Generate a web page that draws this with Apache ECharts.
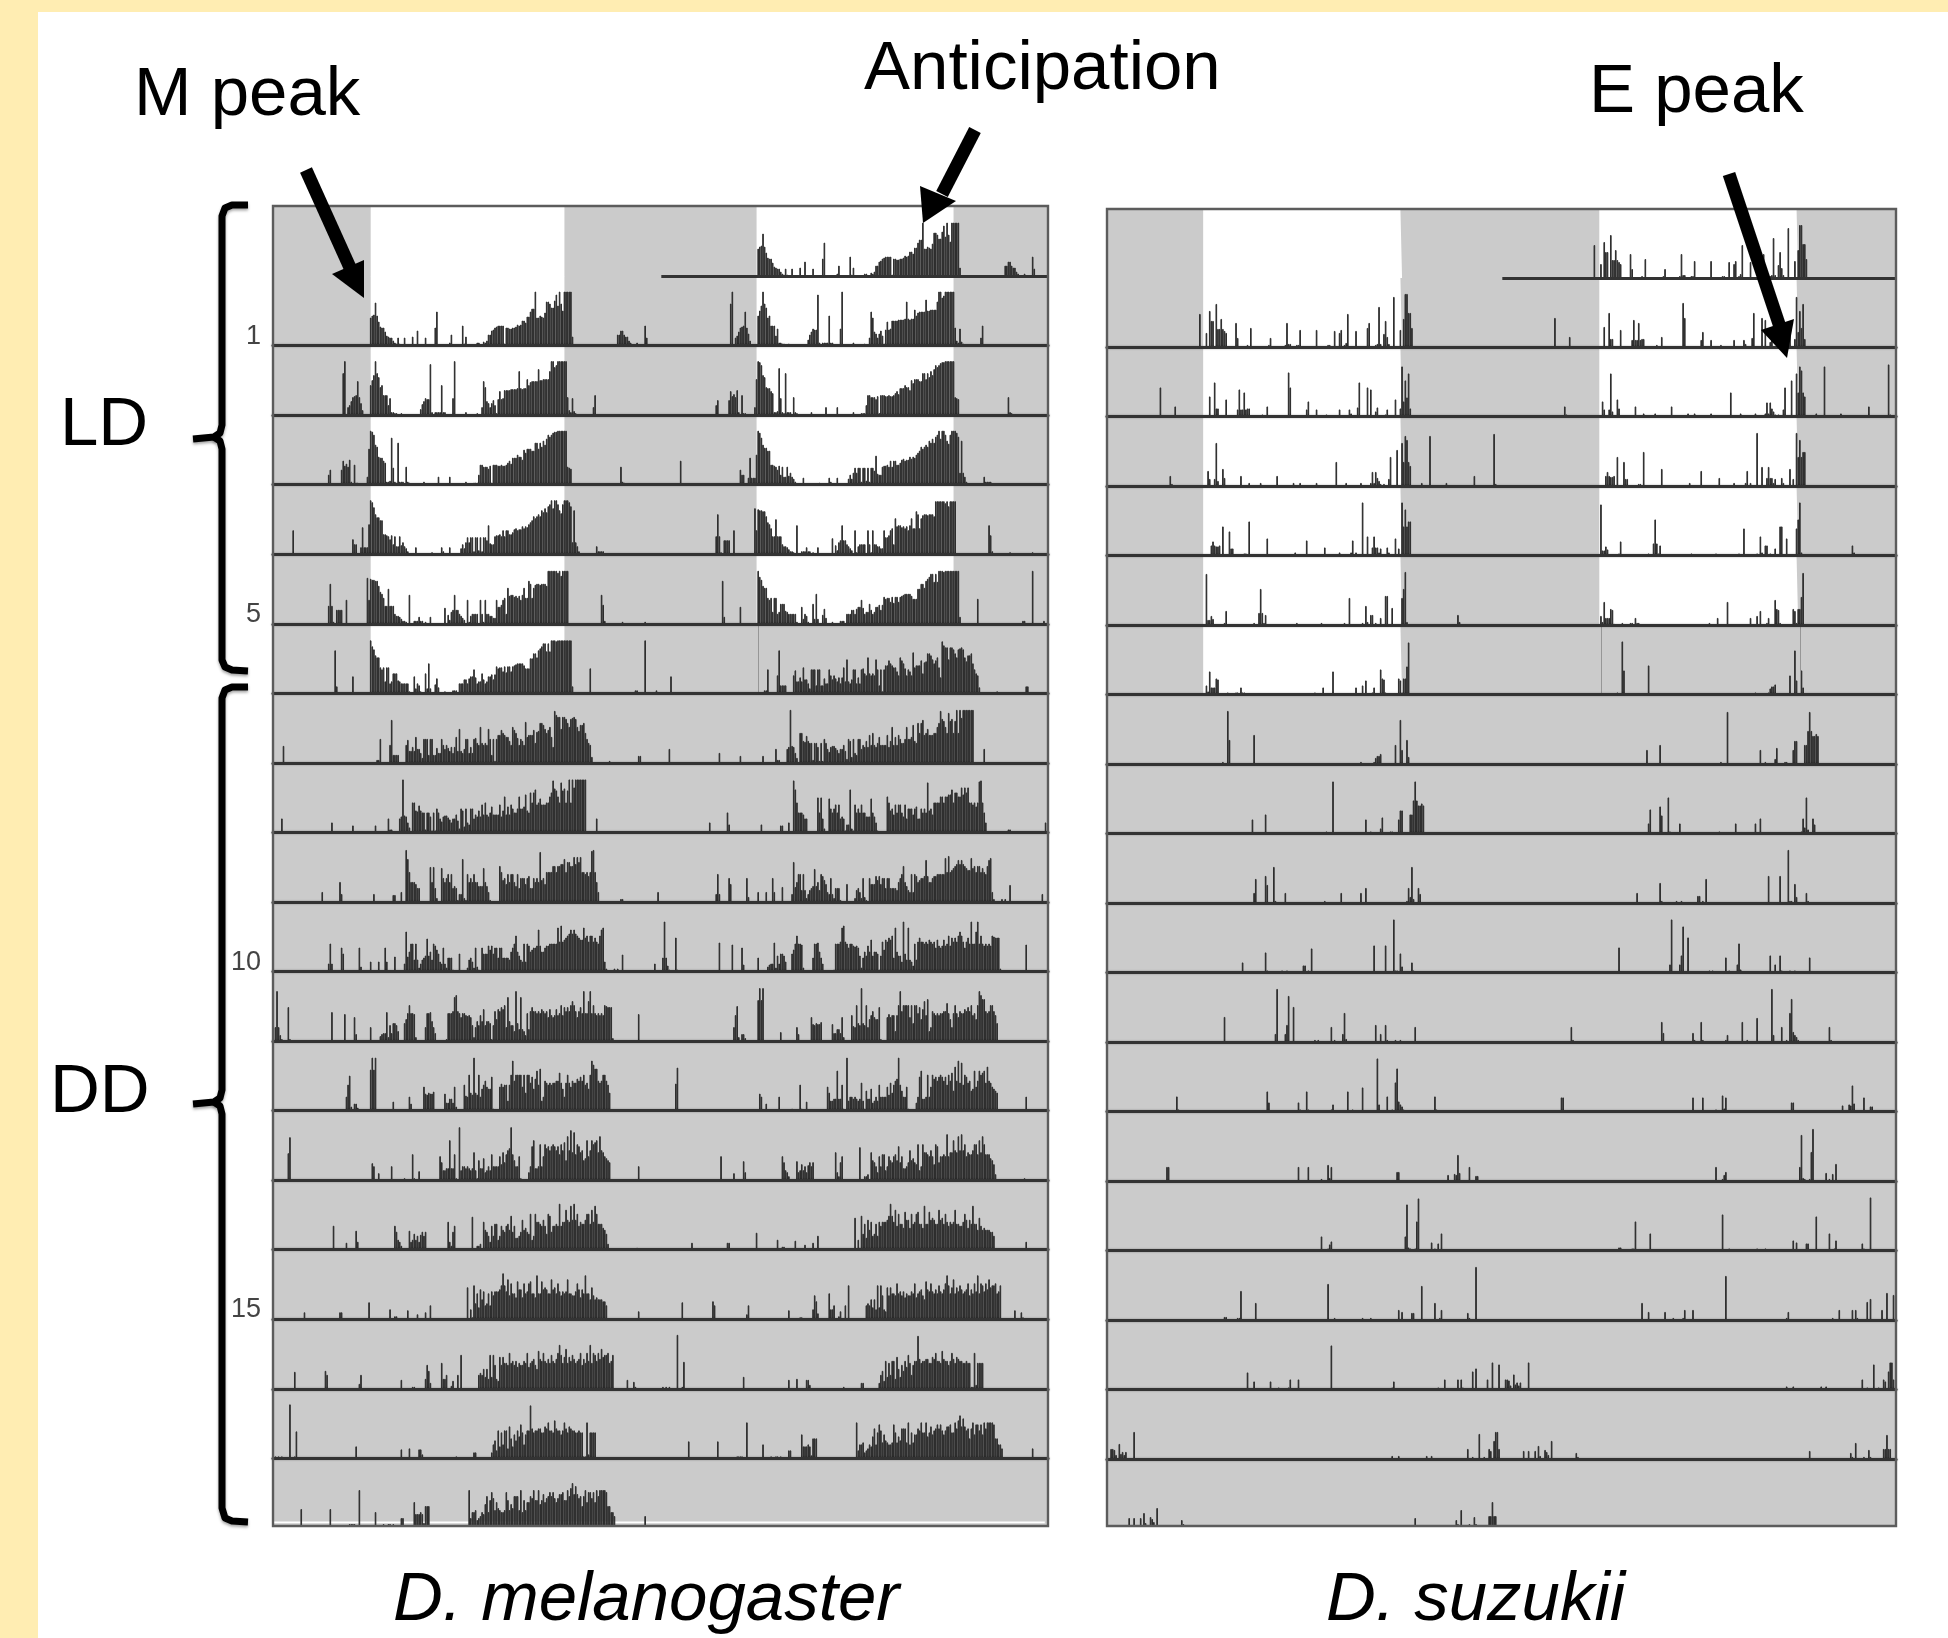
<!DOCTYPE html>
<html><head><meta charset="utf-8"><style>html,body{margin:0;padding:0;background:#fff}#c{width:1948px;height:1638px}</style>
<script src="https://cdn.jsdelivr.net/npm/echarts@6/dist/echarts.min.js"></script></head><body><div id="c"></div>
<script>
// Each day: runs of [first 6-min bin, activity, activity, ...].
const mel0=[[60,28,30,31,43,30,24,19,18,18,14,10,9,8,8,5,3,2,8,2],[81,8],[86,9],[89,15],[94,8],[100,18,34],[109,3,11],[117,20,2,9],[126,3,3],[130,4,3,5,11,11,15,16,18,19,20,20,20,20,2,18,18,17,17,18,18,19,21,20,21,25,25,23,29,29,34,37,37,54,28,28,30,29,28,33,44,44,42,38,38,45,51,40,54,42,35,54,54,54,54,54,9],[213,11,11,15,15,11,9,9,5,3],[225,3],[230,20,8]];
const mel1=[[43,42,54],[46,8,10,14,18,19,20,34,18,12,5],[60,30,35,40,54,42,38,28,30,20,20,20,10,17,3,3,2,2],[79,2],[91,6,11,14,17,16,16,51,3],[100,3,3,3,3,30,3,3],[111,17,54],[119,3],[126,2],[129,8,34,28,14,12,8,12,15,10,2,16,24,16,17,25,25,25,25,26,26,26,26,27,44,27,26,27,27,36,30,33,34,34,34,34,46,35,35,36,36,36,36,44,54,54,48,50,54,54,54,54,54,54,18,5,3,17,4,2,1],[198,8,20]];
const mel2=[[34,10,15],[42,15,24,19,21,18,25,3],[50,20,2,2],[58,8,36,54,53,50,40,38,28,27,27,24,22,3,3,4,47,17,3,2,42,3,3,3],[82,18,3,2],[93,3],[102,8],[109,8],[119,3],[124,2,2,2,10,20,20,18,18,18,16,19,2,20,20,20,19,19,20,19,19,20,22,24,21,27,27,27,30,28,28,25,35,32,36,36,36,34,34,42,42,36,42,38,44,40,46,50,48,50,52,53,53,54,54,54,54,54,54,18,17,16],[215,18,3,2,1]];
const mel3=[[12,24],[49,15,10,10],[54,7,27,7,7,7,30,54,52,47,40,37,37,34,34,20,20,19,18,15,19,10,18,8,8,18,9,12,8,6,3,1],[87,1,7,1],[98,2],[104,7,3],[109,7],[116,6,10,6,12,17,12,17,17,3,17,17,4,17,3,17,17,14,29,11,10,10,18,19,19,20,18,24,18,24,24,20,20,22,25,26,24,25,25,28,26,28,27,30,32,34,38,36,38,40,38,44,42,46,42,48,50,54,46,54,54,50,44,41,50,54,54,54,52,48,15],[185,12,44,12,8,3],[200,8,3,3,3,3]];
const mel4=[[34,18,40,18,2],[39,14,14,14,14],[45,24],[58,46,24,45,44,44,43,43,38,32,30,26,18,18,35,18,18,18,10,8,8,7,5,3,3,2],[84,29],[87,3,3,3,7,3,3],[94,2],[97,7],[106,16],[108,9,4,12,14,29,14,14,10,8,6,4],[120,24,2,8,10,10,10,10],[128,24,10,2,24,10,10,8,8,6,6,24,17,17,19,24,26,10,36,28,29,29,27,28,26,28,24,29,36,26,26,43,40,26,36,39,40,40,39,40,40,40,38,53,53,53,53,53,53,51,53,48,53,53,53,53],[203,29,19,3],[216,2],[230,2]];
const mel5=[[38,43,7],[49,17],[60,53,47,44,38,36,36,26,24,26,12,26,26,10,12,20,20,20,13,12,10,10,10,10,10,2],[87,17,5,10,8,2],[94,20,5,30,5],[100,9,15,6],[106,2],[111,3,3,3],[115,10,10,10,14,14,10,15,17,17,24,16,10,12,12,20,14,10,12,17,17,19,14,19,27,25,26,26,22,27,21,27,27,22,27,28,29,30,30,30,30,28,25,25,25,35,35,40,40,36,43,45,47,50,50,42,50,42,53,53,53,52,53,53,53,53,53,53,53,53,53,7],[196,25],[224,3,3],[230,53],[237,3]];
const mel6=[[6,17],[64,3,3,24],[72,18,43,8,8,8,8],[82,18,23,12,12,16,12,26,14,14,10,5,24,24,24,8,24,24,8,8,15,10,10,24,18,14,18,15,12,16,10,16,26,12,34,12,10,14,24,24,10,16,10,24,25,20,18,36,20,18,20,18,34,24,8,24,2,24,28,28,33,30,28,26,26,22,18,36,33,30,25,18,24,22,18,41,26,28,28,28,33,20,31,32,40,40,38,34,30,33,36,26,16,52,48,46,46,34,46,46,44,40,36,44,45,46,44,36,32,38,38,40,30,24,20,18,6],[208,2],[226,7,7]];
const mel7=[[5,14],[36,10],[49,7],[63,7],[71,14,3,3],[78,14,16,53,17,16,10,5],[86,30,30,22,21,27,22,20,20,3,20,20,16,2,20,2,24,20,14,11,16,17,17,15,13,10,14,14,18,12,4,24,22,6,24,10,8,24,24,14,18,16,22,16,28,18,30,18,16,20,26,18,18,18,18,28,16,22,36,18,26,18,28,24,20,20,24,36,24,24,26,38,22,20,40,30,40,43,28,30,34,28,28,28,30,30,36,40,52,44,42,36,30,50,42,44,30,42,53,30,53,45,53,53,53,53,53,53,53],[200,14]];
const mel8=[[30,10],[41,20,8],[62,8],[74,7,7],[79,10],[82,52,43,30,20,20,20,18,14,14],[97,35,20,35,14,4],[104,34,24,20,24,28,20,28,14,16,14,2,8,8,43,4,2,28,20,24,20,28,20,20,16,16,16,34,20,16,10,2],[140,36,30,22,24,18,28,20,28,28,20,16,28,14,24,24,24,18,24,26,14,14,24,20,24,20,50,22,24,18,30,30,30,30,36,36,30,36,36,38,38,43,30,40,40,36,36,45,38,45,40,45,30,30,28,30,26,30,51,52,30,20,10],[215,3,3],[238,10]];
const mel9=[[34,8,28,8],[42,24,18],[53,24,5],[60,10],[65,10],[69,24,10],[75,15],[81,8,40,15,20,28,28,12,28,12,4,8,12,14,16,33,16,20,12,28,26,22,18,10,8,24,8,4,14,14,14,2],[115,18],[120,4,12,14,10,4,24,5,2],[129,24,18,18,18,26,22,26,18,24,24,14,24,24,14,14,14,14,12,20,24,28,36,20,16,12,10,28,10,28,26,20,22,24,24,26,42,26,20,20,24,26,26,28,28,28,28,28,44,30,46,30,32,34,36,38,42,38,42,38,36,34,32,32,44,34,36,30,36,36,30,34,30,28,36,42,44,10,3],[211,3],[213,3],[216,17],[236,8]];
const mel10=[[1,14,50,14,6,2],[9,34,2],[36,29],[44,27],[50,24,7],[60,14],[66,5,7,8,8,29,4,16,8,18,18,16,10],[81,18,22,28,36,28,28,27,4],[94,14,28,28,29,20,14,8],[107,2,28,28,28,30,44,46,30,28,24,28,28,26,25,26,24,16,4,14,20,16,26,20,32,16,20,20,18,2,16,30,22,32,30,34,32,36,14,44,20,16,16,10,50,18,12,44,12,10,6,28,12,30,34,30,30,28,30,28,32,30,28,30,24,32,26,24,26,32,26,28,36,26,34,30,34,30,36,40,36,30,24,30,34,28,50,28,28,40,50,28,36,28,26,28,26,28,26,36,35,34,34,34,3],[226,27]];
const mel11=[[45,14,26,35,4],[50,7,7,3],[60,41,53,41,53],[74,9],[84,14,7],[93,24,17,16,18,17,17,19],[106,17,8,8,12,12,8,24,4],[118,26,15,14,36,18,16,53,18,16,36,14,22,26,30,24,22,22,34,2],[140,24,27,24,26,26,10,26,36,50,30,36,36,36,36,24,36,18,36,36,28,34,22,32,40,26,42,10,14,30,28,26,28,26,28,28,30,30,38,28,22,14,28,36,28,24,30,28,28,32,30,34,30,36,26,28,22,36,50,46,42,42,30,28,30,36,36,30,26,18]];
const mel12=[[9,27,43],[61,17,14],[65,7],[73,14],[81,2],[86,26,2,1],[90,9],[103,24,18,10,10,12,12,40,12,12,26,2],[115,53,10,14,14,12,14,12,10,12,28,10,2,20,12,12,22,8,10,14,10,26,14,14,14,14,24,16,28,18,26,30,32,53,26,20,14,14,24,2],[158,8,14,34,40,12,12,14,36,14,24,36,32,34,30,34,36,34,30,34,26,36,30,38,20,44,30,50,28,48,26,36,34,28,30,20,22,40,24,30,40,36,38,40,28,44,30,28,24,22,20,18],[226,14]];
const mel13=[[37,24],[45,7],[51,19,8],[75,24,18,10,8,4],[84,19,8,10,16,10,14,8,15,18,14,18],[108,28,8,4,18,24],[123,33],[126,4,4,6],[130,28,20,18,14,8,24,14,26,26,10,14,24,20,18,24,26,20,34,18,24,12,12,14,18,30,20,22,18,16,36,10,14,36,28,28,26,24,30,24,16,36,34,18,24,24,26,24,46,24,28,28,40,30,28,44,30,46,30,36,24,28,26,26,30,36,36,26,40,28,44,36,26,26,26,22,20,16,6],[225,2]];
const mel14=[[19,7],[41,7,7],[59,17],[72,10],[75,3,3],[83,9],[89,5],[94,7],[97,14],[120,32],[122,10,2,34,16,26,12,30,20,28,14,16,26,14,28,24,28,28,28,30,34,46,34,28,40,24,36,26,26,22,38,30,30,22,36,26,28,36,38,26,26,22,44,26,26,38,30,32,30,26,26,40,30,32,26,36,28,24,28,26,28,40,26,26,24,24,28,36,30,22,30,26,44,26,26,20,32,24,20,22,20,20,20,18,18,14],[226,8]];
const mel15=[[13,17],[32,18,14],[53,5,14],[79,9],[86,2,2],[94,10,24,18,6],[104,26,10,10,14],[110,3,8],[114,14],[116,34],[127,14,16,14,20,12,20,10,34,12,34,24,10,8,32,24,32,26,26,24,36,26,28,24,28,22,26,24,24,28,26,36,22,26,28,30,24,20,38,30,28,36,28,26,30,26,34,28,26,30,36,44,34,26,32,40,26,32,28,34,30,26,28,30,36,24,30,26,36,28,44,26,36,34,28,36,30,40,32,34,34,36,26,28,34],[219,9],[223,7,2]];
const mel16=[[1,2],[3,2],[5,2],[10,54],[13,2,27],[51,12],[79,9],[84,10],[90,9,9,4],[113,2],[124,6,6],[135,6,14,18,8,28,12,26,14,28,28,10,32,20,12,24,18,28,22,34,26,14,24,28,28,53,30,26,28,28,30,30,26,26,32,30,36,28,28,26,38,30,28,28,24,28,36,30,26,32,30,28,28,26,26,28,26,26,2,2,36,4,26,26,26,26]];
const mel17=[[17,17],[35,17,1],[39,1],[47,2,2,2,2],[53,36],[63,14],[68,2],[71,2,2],[74,2],[79,8,8],[87,24,12,12,12,14,12,3,20,20,20],[121,36,8,14,14,16,6,8,10,14,12,22,30,14,26,34,28,16,24,18,16,14,14,16,34,26,16,22,18,30,30,30,16,36,14,26,16,24,24,30,28,36,26,26,36,22,26,32,24,28,30,34,30,34,28,24,28,32,32,34,26,26,36,30,38,43,32,40,32,28,30,20,30,36,24,34,34,28,34,24,36,30,36,36,36,36,34,20,20,14,14,10],[230,10]];

const suz0=[[56,33],[60,14],[62,36,26,26],[66,43,18,18,28,18,16,14],[78,24,9],[85,2],[87,19],[98,2,9],[108,2,24,3,3],[115,2,2,17],[127,17],[134,2,2],[138,16],[141,14,17],[144,2,4,33],[151,16],[158,19,24],[163,2,3,40,3],[168,13,26,10,3],[174,50],[178,17],[180,28,53,53,34,34,19]];
const suz1=[[32,29],[41,10],[62,20],[65,34,8,8],[72,17],[79,7,27,7,7,24,7,8,8],[94,2],[97,10],[110,44,29],[121,7,15],[127,7],[133,2],[141,7],[147,7,3],[152,9,34],[158,29],[160,27],[163,5,9],[169,2,7],[175,17],[178,8,50,15,36,19,43,8]];
const suz2=[[38,10,2],[61,15,7],[65,7,43,5],[70,17,8],[81,10],[86,3],[93,3],[103,10],[113,3],[117,3],[127,3],[139,24],[145,3],[154,3],[160,3,14,3,14,8,5,2],[168,2],[171,7,29],[176,36],[179,43,24,50,46,24,20],[191,3],[196,50],[206,3],[223,10],[235,52,2]];
const suz3=[[63,10,14,10,9,9,10],[70,29],[74,24,7,7],[83,2,2],[86,34],[97,17],[114,3],[121,15],[132,8],[141,3],[148,3,15],[151,3],[155,53],[158,19],[161,8,19,8,8,3,7],[170,8,3],[175,17],[177,7],[179,53,29,46,29,34,34]];
const suz4=[[60,51,5,5,9,6],[71,2,14],[89,2],[92,12,36,12,2,10],[115,2],[130,2],[144,2],[147,27],[155,2],[157,19,3],[160,10,10],[163,2],[166,7],[169,29,29],[173,17],[179,27,36,53,3],[213,10,3]];
const suz5=[[60,9,3,23,7,7,7,16,15,1],[73,2],[78,2,2],[81,7,2,2],[126,2],[131,7],[137,23],[151,7],[155,9],[157,14],[161,2,7],[166,25,16,15,2],[177,16,14,2,16,16,28,52]];
const suz6=[[70,2],[73,53,24],[89,29],[154,2],[162,2,6,8,8,10],[175,19],[178,44,14],[182,24,7]];
const suz7=[[88,14],[96,19],[133,2],[137,52],[157,14],[160,2],[166,5,16],[172,2,2],[177,14,23,23],[184,19,19,33,52,33,28,28,30,28]];
const suz8=[[89,10,24],[96,27,18],[101,36,2],[108,10],[132,2],[142,10],[154,10],[157,15],[182,2,15,6,36,4],[189,15,9]];
const suz9=[[82,10],[96,20,2],[106,2],[109,2],[119,7,7],[122,2],[124,24],[162,27],[169,27],[174,53,2,2],[178,19,6],[185,10,2]];
const suz10=[[71,25],[102,8,53],[108,8,17,46],[113,35],[126,2],[128,2],[136,15],[138,2],[143,8,29,3],[163,17],[166,8],[169,17,2],[175,2],[178,2],[187,15]];
const suz11=[[42,15,2],[97,20,9],[116,9,2],[121,20,2],[136,2,7],[146,20],[149,2],[155,24],[164,53,7],[170,15],[173,2],[175,29,43,10,7,5,2],[199,15,2]];
const suz12=[[36,14,14],[116,14],[122,14],[130,2],[134,16,3,14],[176,9,9],[207,6],[211,7,6,26,8],[220,14],[224,5,5]];
const suz13=[[130,14],[134,2,6,9],[181,14,46,3,2],[187,2,29,52],[197,8],[199,2],[201,7],[203,17]];
const suz14=[[71,3,3],[79,2,2,29],[90,17],[134,36],[138,2],[155,2],[160,2],[177,10],[179,8],[185,7,7],[191,34],[199,17],[202,2,10],[219,7,2],[224,53]];
const suz15=[[85,17],[89,8],[99,8],[104,2],[110,2,10],[116,10],[136,44],[173,2,8],[201,2],[205,10],[213,10],[215,10,2],[222,18],[224,21],[231,10],[234,27],[238,25]];
const suz16=[[2,10,10,9,4],[7,15,5,7,4,7],[16,27],[173,3],[177,3],[194,3],[197,3],[219,10],[222,2],[226,25],[229,2],[232,10,8],[235,18,27,27,10]];
const suz17=[[13,8],[16,8],[20,8],[22,13,3],[26,9,7,4],[30,18],[45,6,2],[187,8],[212,6,2],[215,16],[220,2],[223,9,2],[232,10,10,24,10,10]];

const melDays=[mel0,mel1,mel2,mel3,mel4,mel5,mel6,mel7,mel8,mel9,mel10,mel11,mel12,mel13,mel14,mel15,mel16,mel17];
const suzDays=[suz0,suz1,suz2,suz3,suz4,suz5,suz6,suz7,suz8,suz9,suz10,suz11,suz12,suz13,suz14,suz15,suz16,suz17];
const rowTicks=[1,5,10,15];
const lightMel=[[60,180],[299,421]];
const lightSuz=[[58,179],[299,420]];
const speciesNames=['D. melanogaster','D. suzukii'];
const phaseNames=['LD','DD'];
const callouts=['M peak','Anticipation','E peak'];

const ROWS=19,BINS_PER_DAY=240;
const cats=Array.from({length:BINS_PER_DAY*2},(_,i)=>i);
function expand(day){const a=new Array(BINS_PER_DAY).fill(null);
  if(day)day.forEach(r=>{for(let i=1;i<r.length;i++)a[r[0]+i-1]=r[i];});return a;}
const BAR='#2e2e2e',LINE='#333333';
const panels=[
 {days:melDays,left:273,width:775,top:206,base0:276,step:69.55,light:lightMel,faint:[300],whiteLine:true},
 {days:suzDays,left:1107,width:789,top:209,base0:277.4,step:69.5,light:lightSuz,faint:[300,421],whiteLine:false}
];
const BOTTOM=1526;
const grids=[],xAxes=[],yAxes=[],series=[];
panels.forEach(p=>{
  for(let k=0;k<ROWS;k++){
    const first=k===0,last=k===ROWS-1;
    const top=first?p.top:p.base0+p.step*(k-1);
    const bottom=last?BOTTOM:p.base0+p.step*k+(first?0.6:0);
    const h=bottom-top,idx=grids.length;
    grids.push({show:true,left:p.left,width:p.width,top:top,height:h,backgroundColor:'#cbcbcb',borderWidth:0,containLabel:false});
    xAxes.push({type:'category',gridIndex:idx,z:10,data:cats,boundaryGap:true,axisTick:{show:false},axisLabel:{show:false},splitLine:{show:false},
      axisLine:{show:!last&&!first,onZero:false,lineStyle:{color:LINE,width:3,shadowColor:'rgba(0,0,0,0.35)',shadowBlur:2}}});
    yAxes.push({type:'value',gridIndex:idx,min:0,max:h,show:false,splitLine:{show:false}});
    // light phase as a white filled band on the same bin axis
    const lightVals=cats.map(b=>{
      const inA=k<=6&&b>=p.light[0][0]&&b<=p.light[0][1];
      const inB=k<=5&&b>=p.light[1][0]&&b<=p.light[1][1];
      return (inA||inB)?h:null;});
    if(k<=6)series.push({type:'line',xAxisIndex:idx,yAxisIndex:idx,silent:true,animation:false,z:1,showSymbol:false,symbol:'none',connectNulls:false,
      data:lightVals,lineStyle:{width:0},areaStyle:{color:'#fff',opacity:1}});
    const s={type:'bar',xAxisIndex:idx,yAxisIndex:idx,barWidth:'100%',silent:true,animation:false,z:3,
      data:expand(p.days[k-1]).concat(expand(p.days[k])),
      itemStyle:{color:BAR,borderColor:BAR,borderWidth:1}};
    if(last&&p.whiteLine)s.markArea={silent:true,z:1,animation:false,itemStyle:{color:'#fff',borderWidth:0},label:{show:false},data:[[{xAxis:0,yAxis:2.8},{xAxis:479,yAxis:4.6}]]};
    if(first)s.markLine={silent:true,animation:false,symbol:'none',label:{show:false},lineStyle:{color:LINE,width:3,type:'solid'},data:[[{coord:[240,0]},{coord:[479,0]}]]};
    if(k===6)s.markLine={silent:true,animation:false,symbol:'none',label:{show:false},lineStyle:{color:'#969696',width:1,type:'solid'},data:p.faint.map(b=>({xAxis:b}))};
    series.push(s);
  }
});
function label(t,x,base,size,italic){return {type:'text',z:50,x:x,y:base-0.28*size,style:{text:t,fill:'#000',fontFamily:'Liberation Sans',fontSize:size,fontStyle:italic?'italic':'normal',align:'left',verticalAlign:'middle'}};}
function head(p1,tip,p2){return {type:'polygon',z:60,shape:{points:[p1,tip,p2]},style:{fill:'#000'}};}
function shaft(a,b){return {type:'polyline',z:60,shape:{points:[a,b]},style:{stroke:'#000',lineWidth:13,fill:null}};}
function brace(pts){return {type:'polyline',z:40,shape:{points:pts},style:{stroke:'#000',lineWidth:7,fill:null,lineJoin:'round',lineCap:'butt',shadowBlur:3,shadowColor:'rgba(0,0,0,0.35)',shadowOffsetY:2}};}
const graphic=[
 {type:'rect',z:-10,shape:{x:0,y:0,width:1948,height:12},style:{fill:'#FFEDB2'}},
 {type:'rect',z:-10,shape:{x:0,y:0,width:38,height:1638},style:{fill:'#FFEDB2'}},
 {type:'rect',z:45,shape:{x:273,y:206,width:775,height:1320},style:{fill:null,stroke:'#5c5c5c',lineWidth:2.4}},
 {type:'rect',z:45,shape:{x:1107,y:209,width:789,height:1317},style:{fill:null,stroke:'#5c5c5c',lineWidth:2.4}},
 label(callouts[0],134,115,69),label(callouts[1],864,89,69),label(callouts[2],1589,112,69),
 label(phaseNames[0],60,445,69),label(phaseNames[1],50,1112,69),
 label(speciesNames[0],393,1620,69,true),label(speciesNames[1],1326,1620,69,true),
 shaft([306,170],[352,272]),head([332,274],[364,298],[364,260]),
 shaft([975,130],[942,194]),head([920,186],[923,223],[956,201]),
 shaft([1729,174],[1781,330]),head([1761,330],[1787,358],[1794,319]),
 brace([[248,205],[232,205],[225,208],[222,216],[222,425],[220,433],[214,437],[193,439]]),
 brace([[214,437],[220,441],[222,449],[222,660],[225,667],[232,670],[248,671]]),
 brace([[248,687],[232,687],[225,690],[222,698],[222,1090],[220,1098],[214,1102],[193,1104]]),
 brace([[214,1102],[220,1106],[222,1114],[222,1508],[225,1518],[232,1521],[248,1522]])
];
rowTicks.forEach(t=>{graphic.push({type:'text',z:50,x:261,y:panels[0].base0+panels[0].step*t-0.347*27,style:{text:String(t),fill:'#444',fontFamily:'Liberation Sans',fontSize:27,align:'right',verticalAlign:'middle'}});});
const chart=echarts.init(document.getElementById('c'),null,{renderer:'canvas',width:1948,height:1638});
chart.setOption({animation:false,backgroundColor:'#fff',grid:grids,xAxis:xAxes,yAxis:yAxes,series:series,graphic:{elements:graphic}});
</script></body></html>
